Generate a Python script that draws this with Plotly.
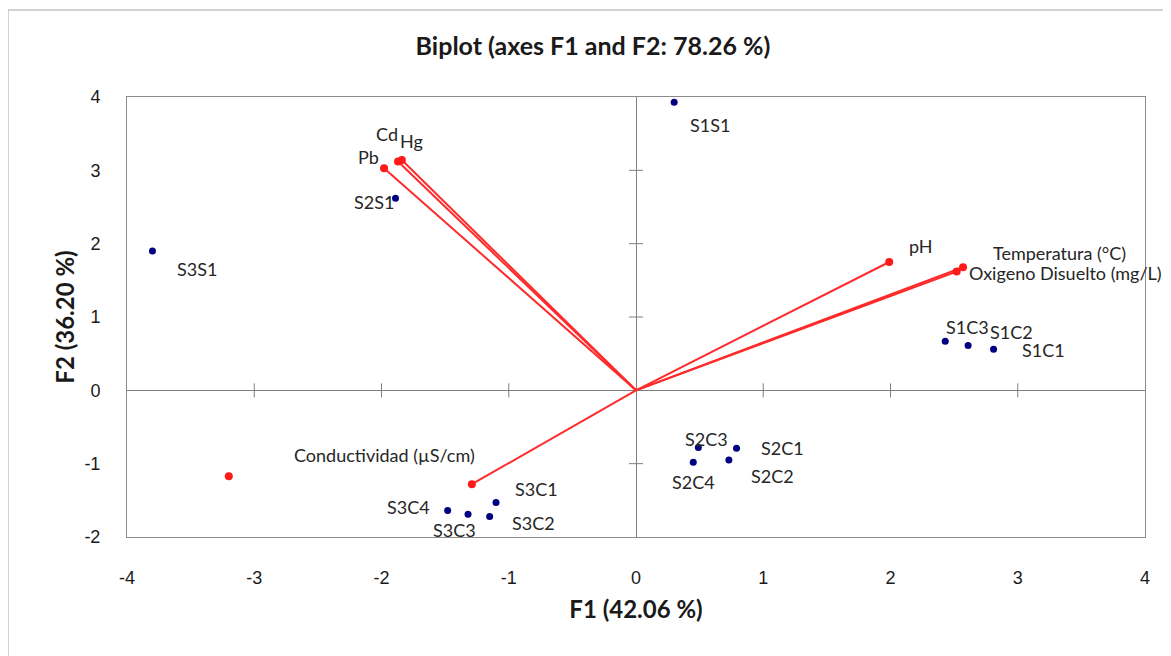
import plotly.graph_objects as go

# Observations (blue)
obs_labels = ["S1S1", "S2S1", "S3S1", "S1C3", "S1C2", "S1C1", "S2C3", "S2C1",
              "S2C4", "S2C2", "S3C1", "S3C2", "S3C3", "S3C4"]
obs_f1 = [0.30, -1.89, -3.80, 2.43, 2.61, 2.81, 0.49, 0.79, 0.45, 0.73, -1.10, -1.15, -1.32, -1.48]
obs_f2 = [3.93, 2.62, 1.90, 0.67, 0.61, 0.56, -0.78, -0.79, -0.98, -0.95, -1.53, -1.72, -1.69, -1.64]

# Variables (red vectors)
var_labels = ["Pb", "Cd", "Hg", "pH", "Temperatura (°C)", "Oxigeno Disuelto (mg/L)",
              "Conductividad (µS/cm)"]
var_f1 = [-1.98, -1.87, -1.84, 1.99, 2.57, 2.52, -1.29]
var_f2 = [3.03, 3.12, 3.14, 1.75, 1.68, 1.62, -1.28]

# Lone red point (no vector)
extra_f1 = [-3.20]
extra_f2 = [-1.17]

x_ticks = [-4, -3, -2, -1, 0, 1, 2, 3, 4]
y_ticks = [-2, -1, 0, 1, 2, 3, 4]
x_tick_text = ["-4", "-3", "-2", "-1", "0", "1", "2", "3", "4"]
y_tick_text = ["-2", "-1", "0", "1", "2", "3", "4"]

# label offsets (pixels) – styling only
obs_shift = {
    "S1S1": (36, -23), "S2S1": (-22, -4), "S3S1": (45, -18), "S1C3": (22, 14),
    "S1C2": (43, 14), "S1C1": (50, -1), "S2C3": (8, 9), "S2C1": (46, 0),
    "S2C4": (0, -20), "S2C2": (44, -16), "S3C1": (40, 14), "S3C2": (44, -7),
    "S3C3": (-14, -16), "S3C4": (-39, 4),
}
var_shift = {
    "Pb": (-16, 11), "Cd": (-11, 28), "Hg": (10, 19), "pH": (32, 16),
    "Temperatura (°C)": (96, 14), "Oxigeno Disuelto (mg/L)": (109, -1),
    "Conductividad (µS/cm)": (-87, 29),
}

FONT = "Lato"
TXT = "#262626"
LABEL_SIZE = 18
fig = go.Figure()

# vectors
vx, vy = [], []
for a, b in zip(var_f1, var_f2):
    vx += [0, a, None]
    vy += [0, b, None]
fig.add_trace(go.Scatter(x=vx, y=vy, mode="lines",
                         line=dict(color="#FF2A2A", width=2), hoverinfo="skip"))
fig.add_trace(go.Scatter(x=var_f1 + extra_f1, y=var_f2 + extra_f2, mode="markers",
                         marker=dict(color="#FF1A1A", size=8)))

# cross ticks on zero lines
xt = [t for t in x_ticks if t not in (0, x_ticks[0], x_ticks[-1])]
yt = [t for t in y_ticks if t not in (0, y_ticks[0], y_ticks[-1])]
fig.add_trace(go.Scatter(x=xt, y=[0] * len(xt), mode="markers",
                         marker=dict(symbol="line-ns", size=10,
                                     line=dict(color="#7f7f7f", width=1)),
                         hoverinfo="skip"))
fig.add_trace(go.Scatter(x=[0] * len(yt), y=yt, mode="markers",
                         marker=dict(symbol="line-ew", size=10,
                                     line=dict(color="#7f7f7f", width=1)),
                         hoverinfo="skip"))

fig.add_trace(go.Scatter(x=obs_f1, y=obs_f2, mode="markers",
                         marker=dict(color="#000080", size=7)))

annotations = []
for lab, a, b in zip(obs_labels, obs_f1, obs_f2):
    dx, dy = obs_shift[lab]
    annotations.append(dict(x=a, y=b, text=lab, showarrow=False, xshift=dx, yshift=dy,
                            font=dict(family=FONT, size=LABEL_SIZE, color=TXT)))
for lab, a, b in zip(var_labels, var_f1, var_f2):
    dx, dy = var_shift[lab]
    annotations.append(dict(x=a, y=b, text=lab, showarrow=False, xshift=dx, yshift=dy,
                            font=dict(family=FONT, size=LABEL_SIZE, color=TXT)))

fig.update_layout(
    width=1171, height=656,
    margin=dict(l=119, r=34, t=89, b=127),
    paper_bgcolor="white", plot_bgcolor="white",
    showlegend=False,
    title=dict(text="<b>Biplot (axes F1 and F2: 78.26 %)</b>", x=(593 - 8) / 1171,
               xanchor="center", y=1 - (46 - 8) / 656, yanchor="middle",
               font=dict(family=FONT, size=25, color="#1a1a1a")),
    annotations=annotations,
    xaxis=dict(range=[-4, 4], tickvals=x_ticks, ticktext=x_tick_text, showgrid=False,
               zeroline=True, zerolinecolor="#7f7f7f", zerolinewidth=1,
               showline=True, mirror=True, linecolor="#8c8c8c", linewidth=1,
               ticks="", ticklabelstandoff=24,
               tickfont=dict(family="Liberation Sans", size=18, color="#1a1a1a"),
               title=dict(text="<b>F1 (42.06 %)</b>", standoff=14,
                          font=dict(family=FONT, size=24, color="#1a1a1a"))),
    yaxis=dict(range=[-2, 4], tickvals=y_ticks, ticktext=y_tick_text, showgrid=False,
               zeroline=True, zerolinecolor="#7f7f7f", zerolinewidth=1,
               showline=True, mirror=True, linecolor="#8c8c8c", linewidth=1,
               ticks="", ticklabelstandoff=22,
               tickfont=dict(family="Liberation Sans", size=18, color="#1a1a1a"),
               title=dict(text="<b>F2 (36.20 %)</b>", standoff=2,
                          font=dict(family=FONT, size=24, color="#1a1a1a"))),
    shapes=[dict(type="rect", xref="paper", yref="paper",
                 x0=-119 / 1018, x1=1.2, y0=-0.5, y1=1 + 87 / 440,
                 line=dict(color="#a6a6a6", width=1), layer="below")],
)

fig.write_html("out.html")
